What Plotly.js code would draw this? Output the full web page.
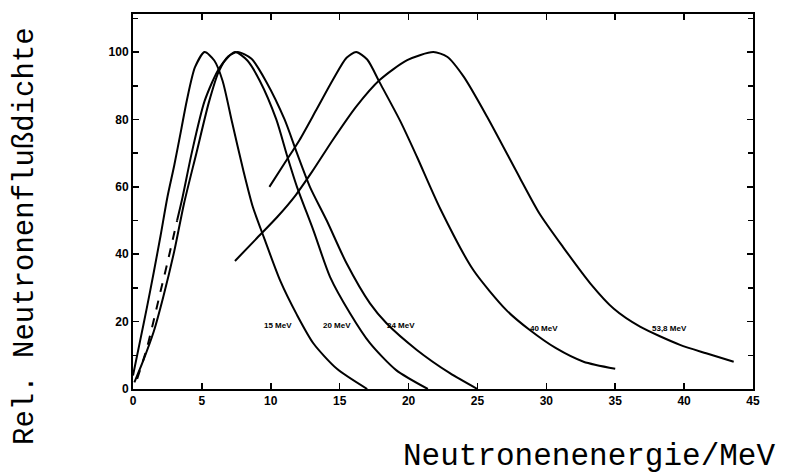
<!DOCTYPE html>
<html>
<head>
<meta charset="utf-8">
<script src="https://cdn.plot.ly/plotly-3.0.1.min.js"></script>
<style>html,body{margin:0;padding:0;background:#fff;}#chart{width:786px;height:473px;}</style>
</head>
<body>
<div id="chart"></div>
<script>
// Curve 15 MeV
const e15_x = [0, 0.5, 1, 1.5, 2, 2.5, 3, 3.5, 3.9, 4.5, 5.2, 5.9, 6.5, 7.2, 8.0, 8.7, 9.5, 10.7, 11.9, 13.1, 14.8, 17.0];
const e15_y = [4, 14, 24, 34.5, 45.5, 57, 66.5, 77, 85.5, 95.5, 100, 97.5, 91.5, 79, 65, 54, 45, 32, 22, 13.5, 6, 0];
// Curve 20 MeV (dashed lower part, then solid)
const e20d_x = [0.3, 1, 2, 2.5, 3.2];
const e20d_y = [3, 12, 29, 37.5, 50];
const e20_x = [3.2, 3.6, 4.26, 5.2, 6.3, 7.4, 8.3, 9.2, 10.4, 11.2, 11.9, 13.1, 14.3, 15.75, 17.2, 19.1, 21.4];
const e20_y = [50, 57, 70, 85.5, 95.5, 100, 97.5, 91.5, 80, 69, 60, 47, 33.3, 22.5, 13.6, 5.6, 0];
// Curve 24 MeV
const e24_x = [0.1, 0.7, 1.5, 2.2, 3.0, 3.7, 4.6, 5.5, 6.2, 6.9, 7.6, 8.6, 9.7, 11.0, 11.9, 12.84, 14.06, 15.5, 17.2, 18.4, 20.6, 23.0, 25.0];
const e24_y = [2, 8, 17, 27.4, 41, 55, 70, 85, 94, 98.7, 100, 98, 91, 80, 70, 60, 50, 37.3, 25.4, 19.5, 11.6, 4.7, 0];
// Curve 40 MeV
const e40_x = [9.9, 11, 12.1, 13.3, 14.5, 15.5, 16.2, 17.0, 17.9, 19.4, 20.6, 22.3, 24.7, 27.1, 28.8, 30.7, 32.7, 35.0];
const e40_y = [60, 67, 74, 82.8, 91.7, 98.3, 100, 97.8, 91, 79.5, 69, 53.5, 35.3, 23.4, 17.5, 12.1, 8.1, 6];
// Curve 53,8 MeV
const e54_x = [7.4, 9.0, 10.5, 11.8, 13.0, 14.5, 16.2, 17.9, 19.9, 21.8, 22.8, 24.0, 25.7, 28.1, 29.5, 31.2, 33.2, 34.9, 36.8, 39.7, 41.6, 43.6];
const e54_y = [38, 44.8, 51.2, 57.5, 64.5, 73.9, 83.8, 91.7, 97.6, 100, 98.6, 92.7, 80.8, 62.5, 52.1, 42.2, 31.3, 23.8, 18.5, 13.1, 10.6, 8.1];

const curveLabels = ["15 MeV", "20 MeV", "24 MeV", "40 MeV", "53,8 MeV"];
const xTickVals = [0, 5, 10, 15, 20, 25, 30, 35, 40, 45];
const yTickVals = [0, 20, 40, 60, 80, 100];

const lineStyle = {color: '#000', width: 2, shape: 'spline', smoothing: 0.7};
function tr(x, y, dash) {
  return {x: x, y: y, type: 'scatter', mode: 'lines', line: Object.assign({}, lineStyle, {dash: dash || 'solid'}), hoverinfo: 'skip', showlegend: false};
}
const data = [
  tr(e15_x, e15_y),
  tr(e20d_x, e20d_y, 'dash'),
  tr(e20_x, e20_y),
  tr(e24_x, e24_y),
  tr(e40_x, e40_y),
  tr(e54_x, e54_y)
];

const W = 786, H = 473, mL = 133, mR = 33, mT = 14, mB = 84;
const pw = W - mL - mR, ph = H - mT - mB;
const px2paperX = p => (p - mL) / pw;
const px2paperY = p => (H - mB - p) / ph;

const tickFont = {family: 'Liberation Sans, Arial, sans-serif', size: 12, color: '#000', weight: 'bold'};
const labelPos = [[10.5, 18.7], [14.8, 18.7], [19.45, 18.7], [29.8, 18.1], [38.97, 18.1]];
const annotations = curveLabels.map((t, i) => ({
  x: labelPos[i][0], y: labelPos[i][1], xref: 'x', yref: 'y', text: t, showarrow: false,
  xanchor: 'center', yanchor: 'middle',
  font: {family: 'Liberation Sans, Arial, sans-serif', size: 8, color: '#000', weight: 'bold'}
}));
annotations.push({
  x: px2paperX(589), y: px2paperY(456), xref: 'paper', yref: 'paper',
  xanchor: 'center', yanchor: 'middle',
  text: 'Neutronenenergie/MeV', showarrow: false,
  font: {family: 'Liberation Mono, Courier New, monospace', size: 31, color: '#000'}
});
annotations.push({
  x: px2paperX(25), y: px2paperY(236), xref: 'paper', yref: 'paper',
  xanchor: 'center', yanchor: 'middle',
  text: 'Rel. Neutronenflußdichte', showarrow: false, textangle: -90,
  font: {family: 'Liberation Mono, Courier New, monospace', size: 29, color: '#000'}
});

const layout = {
  width: W, height: H,
  margin: {l: mL, r: mR, t: mT, b: mB, pad: 0},
  paper_bgcolor: '#fff', plot_bgcolor: '#fff',
  showlegend: false,
  xaxis: {
    range: [0, 45], tickvals: xTickVals, ticktext: xTickVals.map(String),
    ticks: 'inside', ticklen: 6, tickwidth: 1.5, tickcolor: '#000',
    showline: true, linecolor: '#000', linewidth: 2, mirror: 'ticks',
    showgrid: false, zeroline: false, tickfont: tickFont
  },
  yaxis: {
    range: [0, 111.3], tickvals: yTickVals, ticktext: yTickVals.map(String),
    ticks: 'inside', ticklen: 6, tickwidth: 1.5, tickcolor: '#000',
    minor: {dtick: 10, tick0: 0, ticks: 'inside', ticklen: 5, tickwidth: 1.5, tickcolor: '#000', showgrid: false},
    showline: true, linecolor: '#000', linewidth: 2, mirror: 'ticks',
    showgrid: false, zeroline: false, tickfont: tickFont
  },
  annotations: annotations
};
Plotly.newPlot('chart', data, layout, {staticPlot: true, displayModeBar: false});
</script>
</body>
</html>
